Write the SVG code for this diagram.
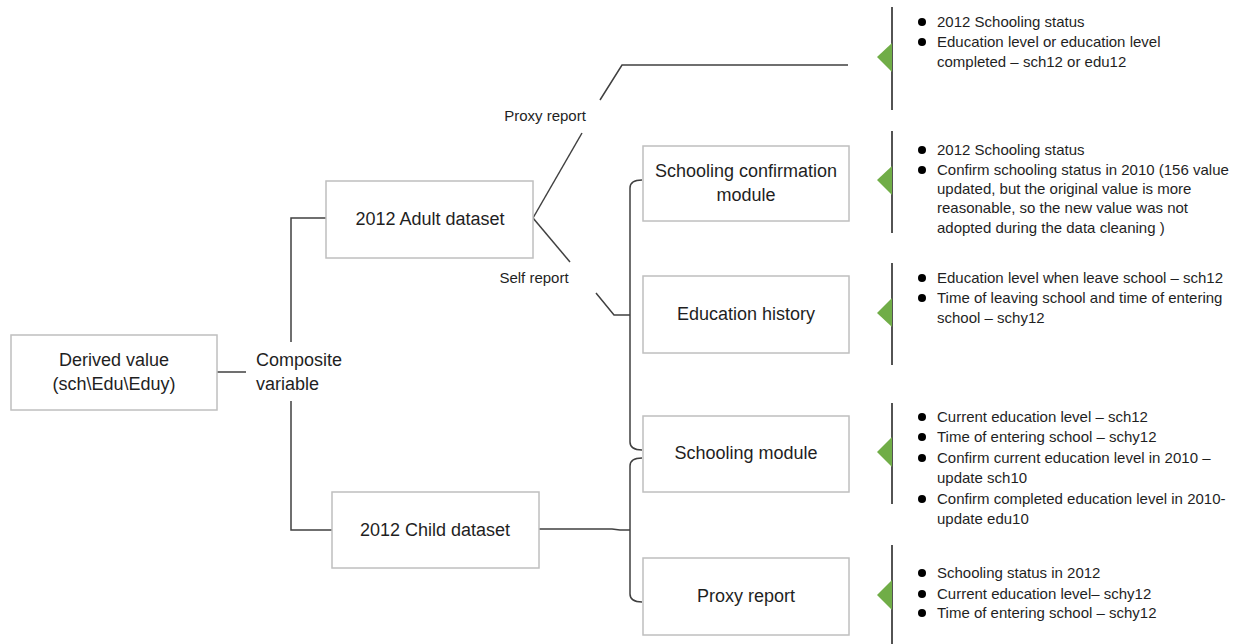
<svg xmlns="http://www.w3.org/2000/svg" width="1252" height="644" viewBox="0 0 1252 644">
  <style>
    .box { fill: #ffffff; stroke: #bfbfbf; stroke-width: 1.5; }
    .lbl { font-family: "Liberation Sans", Arial, sans-serif; font-size: 18px; fill: #1f1f1f; text-anchor: middle; }
    .edge { font-family: "Liberation Sans", Arial, sans-serif; font-size: 15px; fill: #1f1f1f; text-anchor: middle; }
    .note { font-family: "Liberation Sans", Arial, sans-serif; font-size: 15px; fill: #1f1f1f; }
    .conn { fill: none; stroke: #404040; stroke-width: 1.5; }
    .rule { fill: none; stroke: #1a1a1a; stroke-width: 1.5; }
    .tri { fill: #70ad47; }
    .dot { fill: #000000; }
  </style>
  <rect width="1252" height="644" fill="#ffffff"/>

  <!-- connectors -->
  <g id="connectors">
    <path class="conn" d="M217,372 H246"/>
    <path class="conn" d="M326,218 H291 V342"/>
    <path class="conn" d="M291,401 V530 H332"/>
    <!-- proxy report branch -->
    <path class="conn" d="M533,218 L582,133"/>
    <path class="conn" d="M600,100 L622,65 H848"/>
    <!-- self report branch -->
    <path class="conn" d="M533,218 L570,262"/>
    <path class="conn" d="M596,293 L614,315 H630"/>
    <!-- adult module brace -->
    <path class="conn" d="M642,180 Q630,180 630,188 V442 Q630,450 642,450"/>
    <!-- child module brace -->
    <path class="conn" d="M642,458 Q630,458 630,466 V594 Q630,602 642,602"/>
    <path class="conn" d="M539,529 H612 L620,530 H630"/>
  </g>

  <g id="node-derived">
    <rect class="box" x="11" y="335" width="206" height="75"/>
    <text class="lbl" x="114" y="366">Derived value</text>
    <text class="lbl" x="114" y="390">(sch\Edu\Eduy)</text>
  </g>

  <g id="label-composite">
    <text class="lbl" x="256" y="366" style="text-anchor:start">Composite</text>
    <text class="lbl" x="256" y="390" style="text-anchor:start">variable</text>
  </g>

  <g id="node-adult">
    <rect class="box" x="326" y="181" width="207" height="77"/>
    <text class="lbl" x="430" y="225">2012 Adult dataset</text>
  </g>

  <g id="node-child">
    <rect class="box" x="332" y="492" width="207" height="76"/>
    <text class="lbl" x="435" y="536">2012 Child dataset</text>
  </g>

  <g id="edge-labels">
    <text class="edge" x="545" y="121">Proxy report</text>
    <text class="edge" x="534" y="283">Self report</text>
  </g>

  <g id="node-confirmation">
    <rect class="box" x="643" y="146" width="206" height="75"/>
    <text class="lbl" x="746" y="177">Schooling confirmation</text>
    <text class="lbl" x="746" y="201">module</text>
  </g>

  <g id="node-history">
    <rect class="box" x="643" y="276" width="206" height="77"/>
    <text class="lbl" x="746" y="320">Education history</text>
  </g>

  <g id="node-schooling">
    <rect class="box" x="643" y="416" width="206" height="76"/>
    <text class="lbl" x="746" y="459">Schooling module</text>
  </g>

  <g id="node-proxy">
    <rect class="box" x="643" y="558" width="206" height="77"/>
    <text class="lbl" x="746" y="602">Proxy report</text>
  </g>

  <!-- variable notes -->
  <g id="note-proxy-adult">
    <path class="rule" d="M892,7 V110"/>
    <polygon class="tri" points="892,43 877,57 892,72"/>
    <circle class="dot" cx="922" cy="22" r="4"/>
    <text class="note" x="937" y="27">2012 Schooling status</text>
    <circle class="dot" cx="922" cy="42" r="4"/>
    <text class="note" x="937" y="47">Education level or education level</text>
    <text class="note" x="937" y="67">completed – sch12 or edu12</text>
  </g>

  <g id="note-confirmation">
    <path class="rule" d="M892,131 V233"/>
    <polygon class="tri" points="892,166 877,180 892,195"/>
    <circle class="dot" cx="922" cy="150" r="4"/>
    <text class="note" x="937" y="155">2012 Schooling status</text>
    <circle class="dot" cx="922" cy="170" r="4"/>
    <text class="note" x="937" y="175">Confirm schooling status in 2010 (156 value</text>
    <text class="note" x="937" y="194">updated, but the original value is more</text>
    <text class="note" x="937" y="213">reasonable, so the new value was not</text>
    <text class="note" x="937" y="233">adopted during the data cleaning )</text>
  </g>

  <g id="note-history">
    <path class="rule" d="M892,263 V365"/>
    <polygon class="tri" points="892,298 877,313 892,327"/>
    <circle class="dot" cx="922" cy="278" r="4"/>
    <text class="note" x="937" y="283">Education level when leave school – sch12</text>
    <circle class="dot" cx="922" cy="298" r="4"/>
    <text class="note" x="937" y="303">Time of leaving school and time of entering</text>
    <text class="note" x="937" y="323">school – schy12</text>
  </g>

  <g id="note-schooling">
    <path class="rule" d="M892,403 V504"/>
    <polygon class="tri" points="892,437 877,452 892,467"/>
    <circle class="dot" cx="922" cy="417" r="4"/>
    <text class="note" x="937" y="422">Current education level – sch12</text>
    <circle class="dot" cx="922" cy="437" r="4"/>
    <text class="note" x="937" y="442">Time of entering school – schy12</text>
    <circle class="dot" cx="922" cy="458" r="4"/>
    <text class="note" x="937" y="463">Confirm current education level in 2010 –</text>
    <text class="note" x="937" y="483">update sch10</text>
    <circle class="dot" cx="922" cy="499" r="4"/>
    <text class="note" x="937" y="504">Confirm completed education level in 2010-</text>
    <text class="note" x="937" y="524">update edu10</text>
  </g>

  <g id="note-proxy-child">
    <path class="rule" d="M892,545 V644"/>
    <polygon class="tri" points="892,580 877,595 892,610"/>
    <circle class="dot" cx="922" cy="573" r="4"/>
    <text class="note" x="937" y="578">Schooling status in 2012</text>
    <circle class="dot" cx="922" cy="594" r="4"/>
    <text class="note" x="937" y="599">Current education level– schy12</text>
    <circle class="dot" cx="922" cy="613" r="4"/>
    <text class="note" x="937" y="618">Time of entering school – schy12</text>
  </g>
</svg>
